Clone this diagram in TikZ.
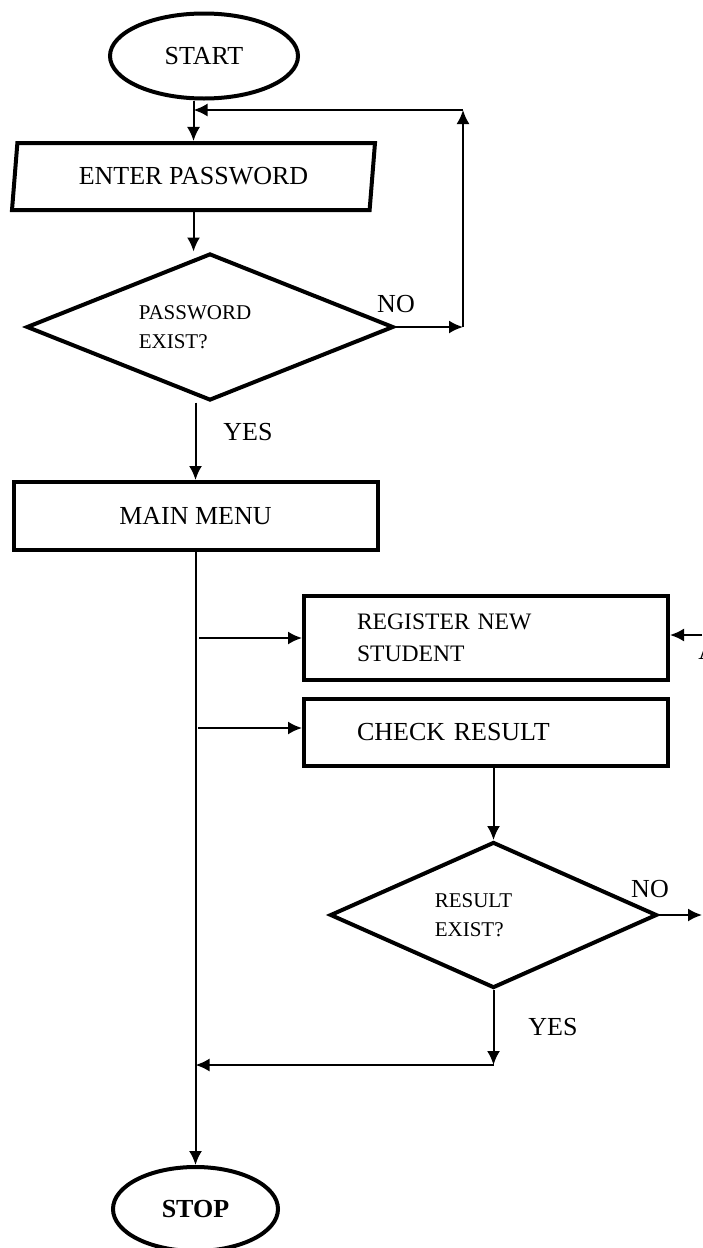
\documentclass[tikz,border=0pt]{standalone}
\usepackage{fontspec}
\setmainfont{Liberation Serif}
\usetikzlibrary{shapes.geometric,arrows.meta}

\begin{document}
\begin{tikzpicture}[x=0.5pt,y=-0.5pt,
		arr/.style={line width=1pt,-{Latex[length=7pt,width=6.5pt]}},
		box/.style={draw,line width=2pt,inner sep=0pt,font=\fontsize{13}{15}\selectfont},
		term/.style={box,ellipse},
		io/.style={box,trapezium,trapezium left angle=73,trapezium right angle=107,trapezium stretches body},
		proc/.style={box,rectangle,minimum width=182pt},
		dec/.style={box,diamond,aspect=2.5,align=left,font=\fontsize{10.5}{14.5}\selectfont},
		lbl/.style={inner sep=0pt,font=\fontsize{13}{15}\selectfont}]
		\useasboundingbox (0,0) rectangle (702,1248);
		\clip (0,0) rectangle (702,1248);
		\node[term,minimum width=94pt,minimum height=42.5pt] (start) at (204,56) {START};
		\node[io,minimum width=181.5pt,minimum height=33.5pt] (enter) at (193.5,176.5) {ENTER PASSWORD};
		\node[dec,minimum width=183.5pt,minimum height=73.5pt] (pwcheck) at (210,327) {PASSWORD\hspace*{15pt}\\EXIST?};
		\node[proc,minimum height=34pt] (menu) at (195.5,516) {MAIN MENU};
		\node[proc,minimum height=42pt,text width=129pt,align=left,font=\fontsize{11.8}{16}\selectfont] (register) at (486,638) {REGISTER NEW\\STUDENT};
		\node[proc,minimum height=33.5pt,text width=129pt,align=left] (check) at (486,732.5) {CHECK RESULT};
		\node[dec,minimum width=163.5pt,minimum height=73pt] (rescheck) at (493.5,915) {RESULT\hspace*{20pt}\\EXIST?};
		\node[term,minimum width=82.5pt,minimum height=42pt,font=\fontsize{13}{15}\selectfont\bfseries] (stop) at (195.5,1209) {STOP};
		\coordinate (nocorner) at (463,327);
		\coordinate (loopcorner) at (463,110);
		\coordinate (br1) at (199,638);
		\coordinate (br2) at (198,728);
		\coordinate (resno) at (702,915);
		\coordinate (join) at (493.5,1065);
		\coordinate (ain) at (702,635);
		\draw[arr] (enter.north |- start.south) -- (enter.north);
		\draw[arr] (enter.south) -- (enter.south |- pwcheck.north);
		\draw[arr] (pwcheck.east) -- (nocorner);
		\draw[arr] (nocorner) -- (loopcorner);
		\draw[arr] (loopcorner) -- (enter.north |- loopcorner);
		\draw[arr] (menu.north |- pwcheck.south) -- (menu.north);
		\draw[arr] (menu.south) -- (stop.north);
		\draw[arr] (br1) -- (register.west);
		\draw[arr] (br2) -- (br2 -| check.west);
		\draw[arr] (ain) -- (ain -| register.east);
		\draw[arr] (rescheck.north |- check.south) -- (rescheck.north);
		\draw[arr] (rescheck.east) -- (resno);
		\draw[arr] (rescheck.south) -- (join);
		\draw[arr] (join) -- (join -| menu.south);
		\node[lbl] (no1) at (396,304) {NO};
		\node[lbl] (yes1) at (248,432) {YES};
		\node[lbl] (no2) at (650,889) {NO};
		\node[lbl] (yes2) at (553,1027) {YES};
		\node[lbl,anchor=west] (alabel) at (698,651) {A};
	\end{tikzpicture}
\end{document}
